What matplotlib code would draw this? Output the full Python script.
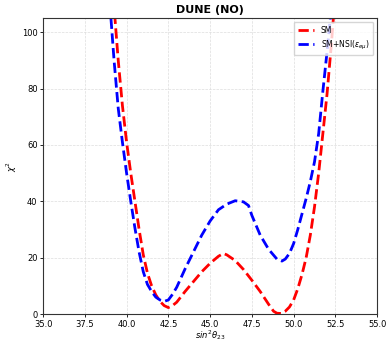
import matplotlib
matplotlib.use("Agg")
import matplotlib.pyplot as plt

# sin^2(theta23) x 100 and chi^2 values
x_sm = [39.0, 39.25, 39.5, 39.75, 40.0, 40.25, 40.5, 40.75, 41.0, 41.25, 41.5, 41.75,
        42.0, 42.25, 42.5, 42.75, 43.0, 43.5, 44.0, 44.5, 45.0, 45.5, 45.8, 46.0,
        46.5, 47.0, 47.5, 48.0, 48.5, 48.8, 49.0, 49.25, 49.5, 49.75, 50.0, 50.25,
        50.5, 50.75, 51.0, 51.25, 51.5, 51.75, 52.0, 52.25, 52.5]
chi2_sm = [128, 109, 90, 74, 61, 50, 40, 30, 21, 14.5, 10, 6.8,
           4.5, 3, 2.3, 3, 4.2, 8, 11.5, 15, 18, 20.5, 21.5, 21,
           19, 15.8, 12, 8, 3.5, 1, 0.3, 0.2, 1, 2.5, 5, 9,
           14, 20, 28, 38, 50, 64, 78, 95, 114]

x_nsi = [39.0, 39.25, 39.5, 39.75, 40.0, 40.25, 40.5, 40.75, 41.0, 41.25, 41.5, 41.75,
         42.0, 42.25, 42.5, 42.75, 43.0, 43.5, 44.0, 44.5, 45.0, 45.5, 46.0, 46.5,
         47.0, 47.3, 47.5, 48.0, 48.5, 49.0, 49.3, 49.5, 49.75, 50.0, 50.25, 50.5,
         50.75, 51.0, 51.25, 51.5, 51.75, 52.0, 52.25]
chi2_nsi = [110, 90, 73, 61, 50, 40, 30.5, 22, 15, 10.5, 8, 6,
            5, 4.5, 5, 7, 9.5, 16, 22, 28, 33, 37, 39, 40.2,
            39.8, 38.5, 35, 28, 23, 19.5, 18.8, 19.5, 21.5, 25, 30, 35.5,
            41, 47, 54, 64, 79, 93, 108]

fig = plt.figure(figsize=(3.88, 3.41), dpi=100)
ax = fig.add_axes([0.111, 0.079, 0.861, 0.868])

ax.plot(x_sm, chi2_sm, color="red", linestyle="--", linewidth=2, label="SM")
ax.plot(x_nsi, chi2_nsi, color="blue", linestyle="--", linewidth=2,
        label=r"SM+NSI($\epsilon_{e\mu}$)")

ax.set_xlim(35, 55)
ax.set_ylim(0, 105)
ax.set_xticks([35.0, 37.5, 40.0, 42.5, 45.0, 47.5, 50.0, 52.5, 55.0])
ax.set_yticks([0, 20, 40, 60, 80, 100])
ax.tick_params(labelsize=6, length=2.5, width=0.6, pad=1.5)
ax.grid(True, linestyle="--", linewidth=0.5, color="#dddddd")
for s in ax.spines.values():
    s.set_linewidth(0.8)
    s.set_color("#333333")

ax.set_title("DUNE (NO)", fontsize=8, fontweight="bold", pad=4)
ax.set_xlabel(r"$sin^2\theta_{23}$", fontsize=6, labelpad=-0.5)
ax.set_ylabel(r"$\chi^2$", fontsize=6, labelpad=2)
ax.legend(loc="upper right", fontsize=5.5, handlelength=2.2, borderpad=0.5)

fig.savefig("out.png", dpi=100)
